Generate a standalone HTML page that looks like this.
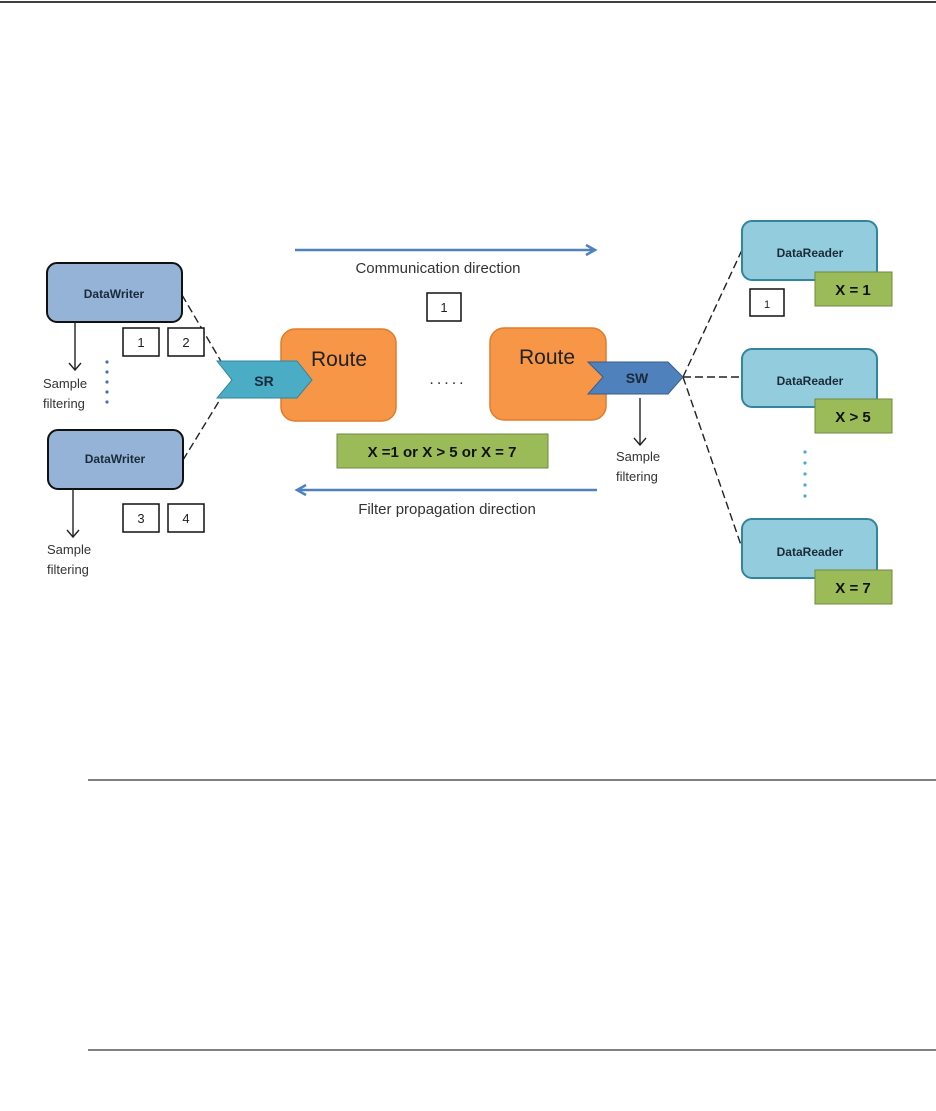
<!DOCTYPE html>
<html><head><style>
html,body{margin:0;padding:0;background:#fff;}
svg{display:block;}
text{font-family:"Liberation Sans",sans-serif;}
</style></head><body>
<svg width="936" height="1111" viewBox="0 0 936 1111" xmlns="http://www.w3.org/2000/svg">
<rect width="936" height="1111" fill="#fff"/>
<line x1="0" y1="2" x2="936" y2="2" stroke="#000" stroke-width="1.5"/>
<line x1="88" y1="780" x2="936" y2="780" stroke="#000" stroke-width="1"/>
<line x1="88" y1="1050" x2="936" y2="1050" stroke="#000" stroke-width="1"/>

<g stroke="#222" stroke-width="1.4" stroke-dasharray="8,4" fill="none">
<line x1="182" y1="295" x2="232" y2="380"/>
<line x1="183" y1="460" x2="232" y2="380"/>
<line x1="683" y1="377" x2="742" y2="250"/>
<line x1="683" y1="377" x2="742" y2="377"/>
<line x1="683" y1="377" x2="742" y2="548"/>
</g>

<rect x="47" y="263" width="135" height="59" rx="10" fill="#95b3d7" stroke="#111" stroke-width="2"/>
<text x="114" y="298" font-size="12" font-weight="bold" text-anchor="middle" fill="#1a2a3a">DataWriter</text>
<rect x="48" y="430" width="135" height="59" rx="10" fill="#95b3d7" stroke="#111" stroke-width="2"/>
<text x="115" y="463" font-size="12" font-weight="bold" text-anchor="middle" fill="#1a2a3a">DataWriter</text>

<g fill="#fff" stroke="#111" stroke-width="1.5">
<rect x="123" y="328" width="36" height="28"/>
<rect x="168" y="328" width="36" height="28"/>
<rect x="123" y="504" width="36" height="28"/>
<rect x="168" y="504" width="36" height="28"/>
<rect x="427" y="293" width="34" height="28"/>
<rect x="750" y="289" width="34" height="27"/>
</g>
<g font-size="13" text-anchor="middle" fill="#222">
<text x="141" y="347">1</text><text x="186" y="347">2</text>
<text x="141" y="523">3</text><text x="186" y="523">4</text>
<text x="444" y="312">1</text><text x="767" y="308" font-size="11">1</text>
</g>

<g stroke="#222" stroke-width="1.4" fill="none">
<line x1="75" y1="322" x2="75" y2="370"/><polyline points="69,363 75,370 81,363"/>
<line x1="73" y1="489" x2="73" y2="537"/><polyline points="67,530 73,537 79,530"/>
<line x1="640" y1="398" x2="640" y2="445"/><polyline points="634,438 640,445 646,438"/>
</g>
<g font-size="13" fill="#333">
<text x="43" y="388">Sample</text><text x="43" y="408">filtering</text>
<text x="47" y="554">Sample</text><text x="47" y="574">filtering</text>
<text x="616" y="461">Sample</text><text x="616" y="481">filtering</text>
</g>
<g fill="#4f6fa8">
<circle cx="107" cy="362" r="1.6"/><circle cx="107" cy="372" r="1.6"/><circle cx="107" cy="382" r="1.6"/><circle cx="107" cy="392" r="1.6"/><circle cx="107" cy="402" r="1.6"/>
</g>
<g fill="#4bacc6">
<circle cx="805" cy="452" r="1.6"/><circle cx="805" cy="463" r="1.6"/><circle cx="805" cy="474" r="1.6"/><circle cx="805" cy="485" r="1.6"/><circle cx="805" cy="496" r="1.6"/>
</g>

<rect x="281" y="329" width="115" height="92" rx="14" fill="#f79646" stroke="#e07b2a" stroke-width="1.5"/>
<text x="339" y="366" font-size="21" text-anchor="middle" fill="#222">Route</text>
<rect x="490" y="328" width="116" height="92" rx="14" fill="#f79646" stroke="#e07b2a" stroke-width="1.5"/>
<text x="547" y="364" font-size="21" text-anchor="middle" fill="#222">Route</text>
<text x="448" y="384" font-size="16" text-anchor="middle" fill="#333" letter-spacing="3">.....</text>

<polygon points="217,361 297,361 312,380 297,398 217,398 232,380" fill="#4bacc6" stroke="#31859c" stroke-width="1"/>
<text x="264" y="386" font-size="14" font-weight="bold" text-anchor="middle" fill="#1a2a3a">SR</text>
<polygon points="588,362 668,362 683,377 668,394 588,394 603,377" fill="#4f81bd" stroke="#385d8a" stroke-width="1"/>
<text x="637" y="383" font-size="14" font-weight="bold" text-anchor="middle" fill="#1a2a3a">SW</text>

<rect x="337" y="434" width="211" height="34" fill="#9bbb59" stroke="#71893f" stroke-width="1"/>
<text x="442" y="457" font-size="15" font-weight="bold" text-anchor="middle" fill="#111">X =1 or X &gt; 5 or X = 7</text>

<g stroke="#4f81bd" stroke-width="2.5" fill="none">
<line x1="295" y1="250" x2="594" y2="250"/><polyline points="586,245 595,250 586,255"/>
<line x1="298" y1="490" x2="597" y2="490"/><polyline points="306,485 297,490 306,495"/>
</g>
<text x="438" y="273" font-size="15" text-anchor="middle" fill="#333">Communication direction</text>
<text x="447" y="514" font-size="15" text-anchor="middle" fill="#333">Filter propagation direction</text>

<g fill="#93cddd" stroke="#31859c" stroke-width="2">
<rect x="742" y="221" width="135" height="59" rx="10"/>
<rect x="742" y="349" width="135" height="58" rx="10"/>
<rect x="742" y="519" width="135" height="59" rx="10"/>
</g>
<g font-size="12" font-weight="bold" text-anchor="middle" fill="#1a2a3a">
<text x="810" y="257">DataReader</text>
<text x="810" y="385">DataReader</text>
<text x="810" y="556">DataReader</text>
</g>
<g fill="#9bbb59" stroke="#71893f" stroke-width="1">
<rect x="815" y="272" width="77" height="34"/>
<rect x="815" y="399" width="77" height="34"/>
<rect x="815" y="570" width="77" height="34"/>
</g>
<g font-size="15" font-weight="bold" text-anchor="middle" fill="#111">
<text x="853" y="295">X = 1</text>
<text x="853" y="422">X &gt; 5</text>
<text x="853" y="593">X = 7</text>
</g>
</svg>
</body></html>
